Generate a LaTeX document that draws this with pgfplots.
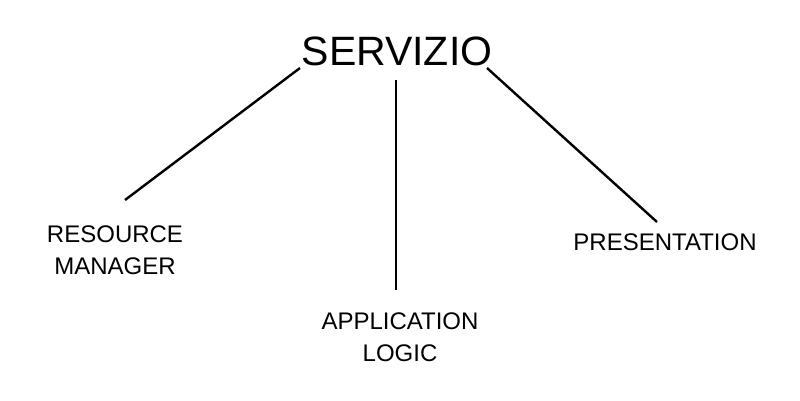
\documentclass[border=0pt]{standalone}
\usepackage{pgfplots}
\pgfplotsset{compat=1.18}
\usepackage{fontspec}
\setmainfont{Liberation Sans}
\begin{document}
\begin{tikzpicture}
\begin{axis}[scale only axis, width=800bp, height=400bp, xmin=0, xmax=800, ymin=0, ymax=400, hide axis, clip=false]
\addplot[draw=none] coordinates {(0,0) (800,400)};
\addplot[black, line width=2.4bp] coordinates {(300,332) (125,200)};
\addplot[black, line width=2.4bp] coordinates {(396,320) (396,110)};
\addplot[black, line width=2.4bp] coordinates {(487,332) (657,178)};
\node[font=\fontsize{41bp}{46bp}\selectfont] at (axis cs:397,349) {SERVIZIO};
\node[font=\fontsize{24bp}{32bp}\selectfont, align=center] at (axis cs:115,150) {RESOURCE\\MANAGER};
\node[font=\fontsize{24bp}{32bp}\selectfont, align=center] at (axis cs:400,63) {APPLICATION\\LOGIC};
\node[font=\fontsize{24bp}{32bp}\selectfont] at (axis cs:665,158) {PRESENTATION};
\end{axis}
\end{tikzpicture}
\end{document}
